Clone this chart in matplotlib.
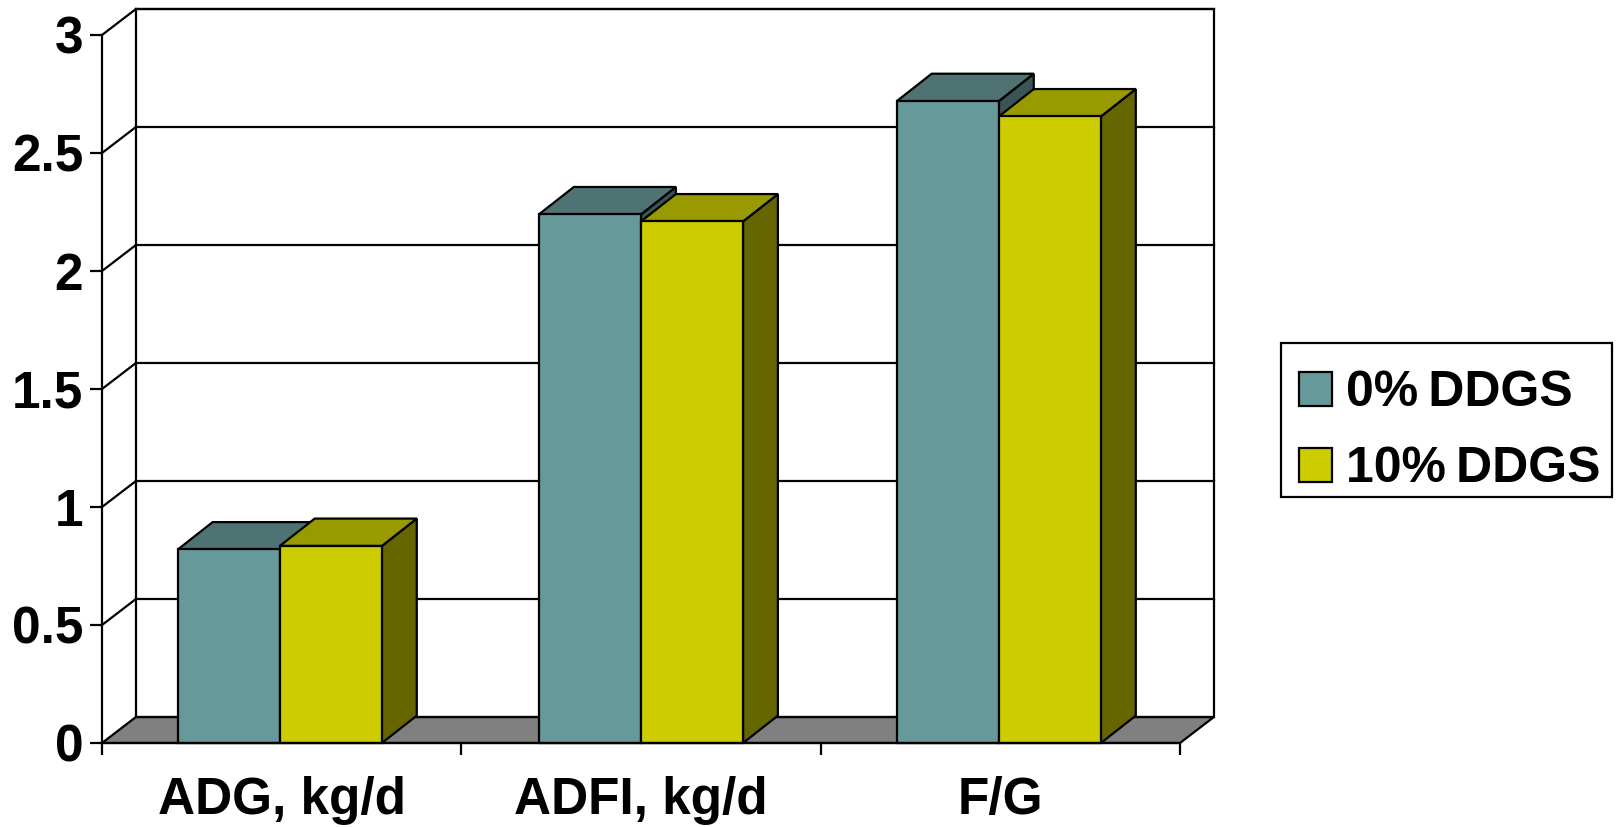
import matplotlib
matplotlib.use("Agg")
import matplotlib.pyplot as plt
from matplotlib.patches import Polygon, Patch, Rectangle

categories = ["ADG, kg/d", "ADFI, kg/d", "F/G"]
series_names = ["0%\u2009DDGS", "10%\u2009DDGS"]
values_0 = [0.82, 2.24, 2.72]
values_10 = [0.835, 2.21, 2.655]
y_ticks = [0, 0.5, 1, 1.5, 2, 2.5, 3]
y_tick_labels = ["0", "0.5", "1", "1.5", "2", "2.5", "3"]

TEAL = ("#669999", "#4F7373", "#395555")
YELLOW = ("#CCCC00", "#999900", "#666600")
FLOOR = "#808080"
LW = 1.6
FONT = "Liberation Sans"
FONT_SIZE = 37
TICK_FONT_SIZE = 37
LEGEND_FONT_SIZE = 36

W, H = 1618, 827
fig = plt.figure(figsize=(W / 100, H / 100), dpi=100)
ax = fig.add_axes([102 / W, (H - 743) / H, 1078 / W, 708 / H])
ax.set_xlim(0, 3)
ax.set_ylim(0, 3)
ax.patch.set_visible(False)

# Oblique projection: how far the back wall sits from the front plane, in data units.
WALL_DX, WALL_DY = 0.0943, 0.110
BAR_DX, BAR_DY = 0.097, 0.116
BAR_W = 0.284
CENTER_SHIFT = [-0.005, 0.0, -0.004]


def poly(points, face="none", z=1):
    ax.add_patch(Polygon(points, closed=True, facecolor=face, edgecolor="black",
                         linewidth=LW, joinstyle="miter", clip_on=False, zorder=z))


def seg(xs, ys, z=1):
    ax.plot(xs, ys, color="black", lw=LW, clip_on=False, zorder=z, solid_capstyle="projecting")


# Floor, back wall and side wall with their gridlines
poly([(0, 0), (WALL_DX, WALL_DY), (3 + WALL_DX, WALL_DY), (3, 0)], FLOOR, z=1)
poly([(WALL_DX, WALL_DY), (WALL_DX, 3 + WALL_DY), (3 + WALL_DX, 3 + WALL_DY),
      (3 + WALL_DX, WALL_DY)], z=1)
for v in y_ticks[1:]:
    seg([0, WALL_DX], [v, v + WALL_DY])
    seg([WALL_DX, 3 + WALL_DX], [v + WALL_DY, v + WALL_DY])


def bar3d(left, top, colors, z):
    right = left + BAR_W
    poly([(left, 0), (left, top), (right, top), (right, 0)], colors[0], z=z + 0.2)
    poly([(left, top), (left + BAR_DX, top + BAR_DY), (right + BAR_DX, top + BAR_DY),
          (right, top)], colors[1], z=z + 0.1)
    poly([(right, 0), (right, top), (right + BAR_DX, top + BAR_DY),
          (right + BAR_DX, BAR_DY)], colors[2], z=z)


for i in range(len(categories)):
    center = i + 0.5 + CENTER_SHIFT[i]
    bar3d(center - BAR_W, values_0[i], TEAL, z=3 + i)
    bar3d(center, values_10[i], YELLOW, z=3.5 + i)

# Front-plane axes
for side in ("top", "right"):
    ax.spines[side].set_visible(False)
for side in ("left", "bottom"):
    ax.spines[side].set_linewidth(LW)
    ax.spines[side].set_zorder(10)

ax.set_yticks(y_ticks)
ax.set_yticklabels(y_tick_labels, fontfamily=FONT, fontweight="bold", fontsize=TICK_FONT_SIZE)
ax.tick_params(axis="y", length=8.5, width=LW, pad=5)
ax.set_xticks([0, 1, 2, 3])
ax.set_xticklabels([])
ax.set_xticks([0.5, 1.5, 2.5], minor=True)
ax.set_xticklabels(categories, minor=True, fontfamily=FONT, fontweight="bold", fontsize=FONT_SIZE)
ax.tick_params(axis="x", which="major", length=8.5, width=LW)
ax.tick_params(axis="x", which="minor", length=0, pad=24)

# Legend box is a separate rectangle so the rows can sit low inside it
fig.add_artist(Rectangle((1281 / W, (H - 497) / H), 331 / W, 154 / H, transform=fig.transFigure,
                         facecolor="white", edgecolor="black", linewidth=LW))
handles = [Patch(facecolor=TEAL[0], edgecolor="black", linewidth=LW, label=series_names[0]),
           Patch(facecolor=YELLOW[0], edgecolor="black", linewidth=LW, label=series_names[1])]
leg = fig.legend(handles=handles, loc="lower left",
                 bbox_to_anchor=(1282.5 / W, (H - 508.5) / H), bbox_transform=fig.transFigure,
                 frameon=False,
                 prop={"family": FONT, "weight": "bold", "size": LEGEND_FONT_SIZE},
                 handlelength=0.66, handleheight=0.66, handletextpad=0.3,
                 borderpad=0.32, labelspacing=0.6, borderaxespad=0)

fig.savefig("out.png", dpi=100)
